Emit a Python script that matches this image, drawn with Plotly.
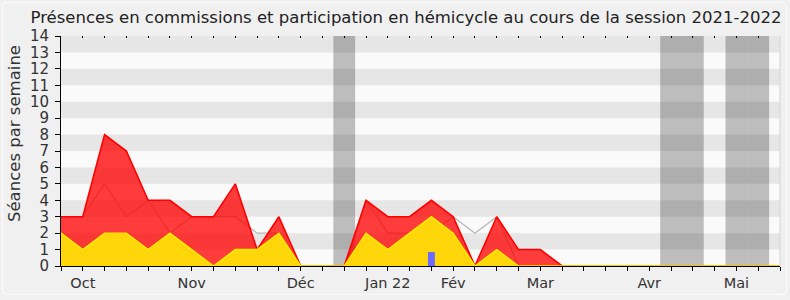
import plotly.graph_objects as go

# ---- data (weekly values, week index 0..33) ----
weeks = list(range(34))
participation_hemicycle = [3, 3, 8, 7, 4, 4, 3, 3, 5, 1, 3, 0, 0, 0, 4, 3, 3, 4, 3, 0, 3, 1, 1,
                           0, 0, 0, 0, 0, 0, 0, 0, 0, 0, 0]
presence_commission = [2, 1, 2, 2, 1, 2, 1, 0, 1, 1, 2, 0, 0, 0, 2, 1, 2, 3, 2, 0, 1, 0, 0,
                       0, 0, 0, 0, 0, 0, 0, 0, 0, 0, 0]
mediane_deputes = [3, 3, 5, 3, 4, 2, 3, 3, 3, 2, 2, 0, 0, 0, 4, 2, 2, 2, 3, 2, 3, 0, 0,
                   0, 0, 0, 0, 0, 0, 0, 0, 0, 0, 0]
vacances = [13, 28, 29, 31, 32]
questions_weeks = [17]
questions_values = [0.85]
month_ticks = [1, 6, 11, 15, 18, 22, 27, 31]
month_names = ["Oct", "Nov", "Déc", "Jan 22", "Fév", "Mar", "Avr", "Mai"]
y_max = 14

FONT = "DejaVu Sans"

fig = go.Figure()

# median line (drawn first, shows through the translucent red)
fig.add_trace(go.Scatter(x=weeks, y=mediane_deputes, mode="lines",
                         line=dict(color="#b4b4b4", width=1.2),
                         hoverinfo="skip", showlegend=False))
# hemicycle participation (red, translucent)
fig.add_trace(go.Scatter(x=weeks, y=participation_hemicycle, mode="lines", fill="tozeroy",
                         fillcolor="rgba(255,0,0,0.76)",
                         line=dict(color="#ff0000", width=1.6),
                         hoverinfo="skip", showlegend=False))
# commission presence (yellow, opaque)
fig.add_trace(go.Scatter(x=weeks, y=presence_commission, mode="lines", fill="tozeroy",
                         fillcolor="#ffd60a",
                         line=dict(color="#ffee00", width=1.4),
                         hoverinfo="skip", showlegend=False))
# blue bars
half = 0.16
for w, v in zip(questions_weeks, questions_values):
    fig.add_trace(go.Scatter(x=[w - half, w - half, w + half, w + half, w - half],
                             y=[0, v, v, 0, 0], mode="lines", fill="toself",
                             fillcolor="#6b6bff", line=dict(width=0, color="#6b6bff"),
                             hoverinfo="skip", showlegend=False))
# invisible trace for top tick axis
fig.add_trace(go.Scatter(x=[weeks[0]], y=[0], xaxis="x2", mode="markers",
                         marker=dict(opacity=0), hoverinfo="skip", showlegend=False))

shapes = []
# alternating horizontal bands
for k in range(1, y_max, 2):
    shapes.append(dict(type="rect", xref="paper", yref="y", x0=0, x1=1, y0=k, y1=k + 1,
                       fillcolor="#e6e6e6", line=dict(width=0), layer="below"))
# vacation weeks
for w in vacances:
    shapes.append(dict(type="rect", xref="x", yref="paper", x0=w - 0.5, x1=w + 0.5, y0=0, y1=1,
                       fillcolor="rgba(0,0,0,0.245)", line=dict(width=0), layer="below"))
# right border of plot
shapes.append(dict(type="line", xref="paper", yref="paper", x0=1, x1=1, y0=0, y1=1,
                   line=dict(color="#d4d4d4", width=1), layer="above"))

# rounded outer frame (pixel -> paper conversion)
L, R, T, B = 61, 10, 36, 34
W, H = 790, 300
pw, ph = W - L - R, H - T - B
def px(x):
    return (x - L) / pw
def py(y):
    return (H - B - y) / ph
x0, x1, y0, y1, r = 2.5, 786.5, 2.5, 294.5, 5
path = (f"M {px(x0 + r)},{py(y0)} L {px(x1 - r)},{py(y0)} Q {px(x1)},{py(y0)} {px(x1)},{py(y0 + r)} "
        f"L {px(x1)},{py(y1 - r)} Q {px(x1)},{py(y1)} {px(x1 - r)},{py(y1)} "
        f"L {px(x0 + r)},{py(y1)} Q {px(x0)},{py(y1)} {px(x0)},{py(y1 - r)} "
        f"L {px(x0)},{py(y0 + r)} Q {px(x0)},{py(y0)} {px(x0 + r)},{py(y0)} Z")
shapes.append(dict(type="path", xref="paper", yref="paper", path=path,
                   line=dict(color="#fbfbfb", width=1.2), fillcolor="rgba(0,0,0,0)", layer="below"))

ticktext = [month_names[month_ticks.index(w)] if w in month_ticks else "" for w in weeks]

fig.update_layout(
    width=W, height=H,
    margin=dict(l=L, r=R, t=T, b=B, pad=0, autoexpand=False),
    paper_bgcolor="#f0f0f0",
    plot_bgcolor="#fafafa",
    font=dict(family=FONT, size=14, color="#333333"),
    title=dict(text="Présences en commissions et participation en hémicycle au cours de la session 2021-2022",
               x=406 / W, xanchor="center", y=1 - 17 / H, yanchor="middle",
               font=dict(family=FONT, size=16.5, color="#222222")),
    shapes=shapes,
    annotations=[dict(text="Séances par semaine", textangle=-90, xref="paper", yref="paper",
                      x=px(14), y=py(134), xanchor="center", yanchor="middle", showarrow=False,
                      font=dict(family=FONT, size=16.5, color="#333333"))],
    xaxis=dict(range=[weeks[0], weeks[-1]], tickmode="array", tickvals=weeks, ticktext=ticktext,
               ticks="outside", ticklen=4, tickcolor="#000000", tickwidth=1,
               showline=True, linecolor="#000000", linewidth=1, automargin=False,
               showgrid=False, zeroline=False, fixedrange=True,
               tickfont=dict(family=FONT, size=14.5, color="#333333")),
    xaxis2=dict(range=[weeks[0], weeks[-1]], overlaying="x", side="top", tickmode="array",
                tickvals=weeks, ticks="inside", ticklen=2, tickcolor="#000000", automargin=False,
                showticklabels=False, showline=False, showgrid=False, zeroline=False),
    yaxis=dict(range=[0, y_max], tickmode="linear", tick0=0, dtick=1,
               ticks="outside", ticklen=5, tickcolor="#000000", automargin=False,
               showline=True, linecolor="#000000", linewidth=1,
               showgrid=False, zeroline=False, ticklabelstandoff=3,
               tickfont=dict(family=FONT, size=15, color="#333333")),
)

fig.write_html("out.html")
